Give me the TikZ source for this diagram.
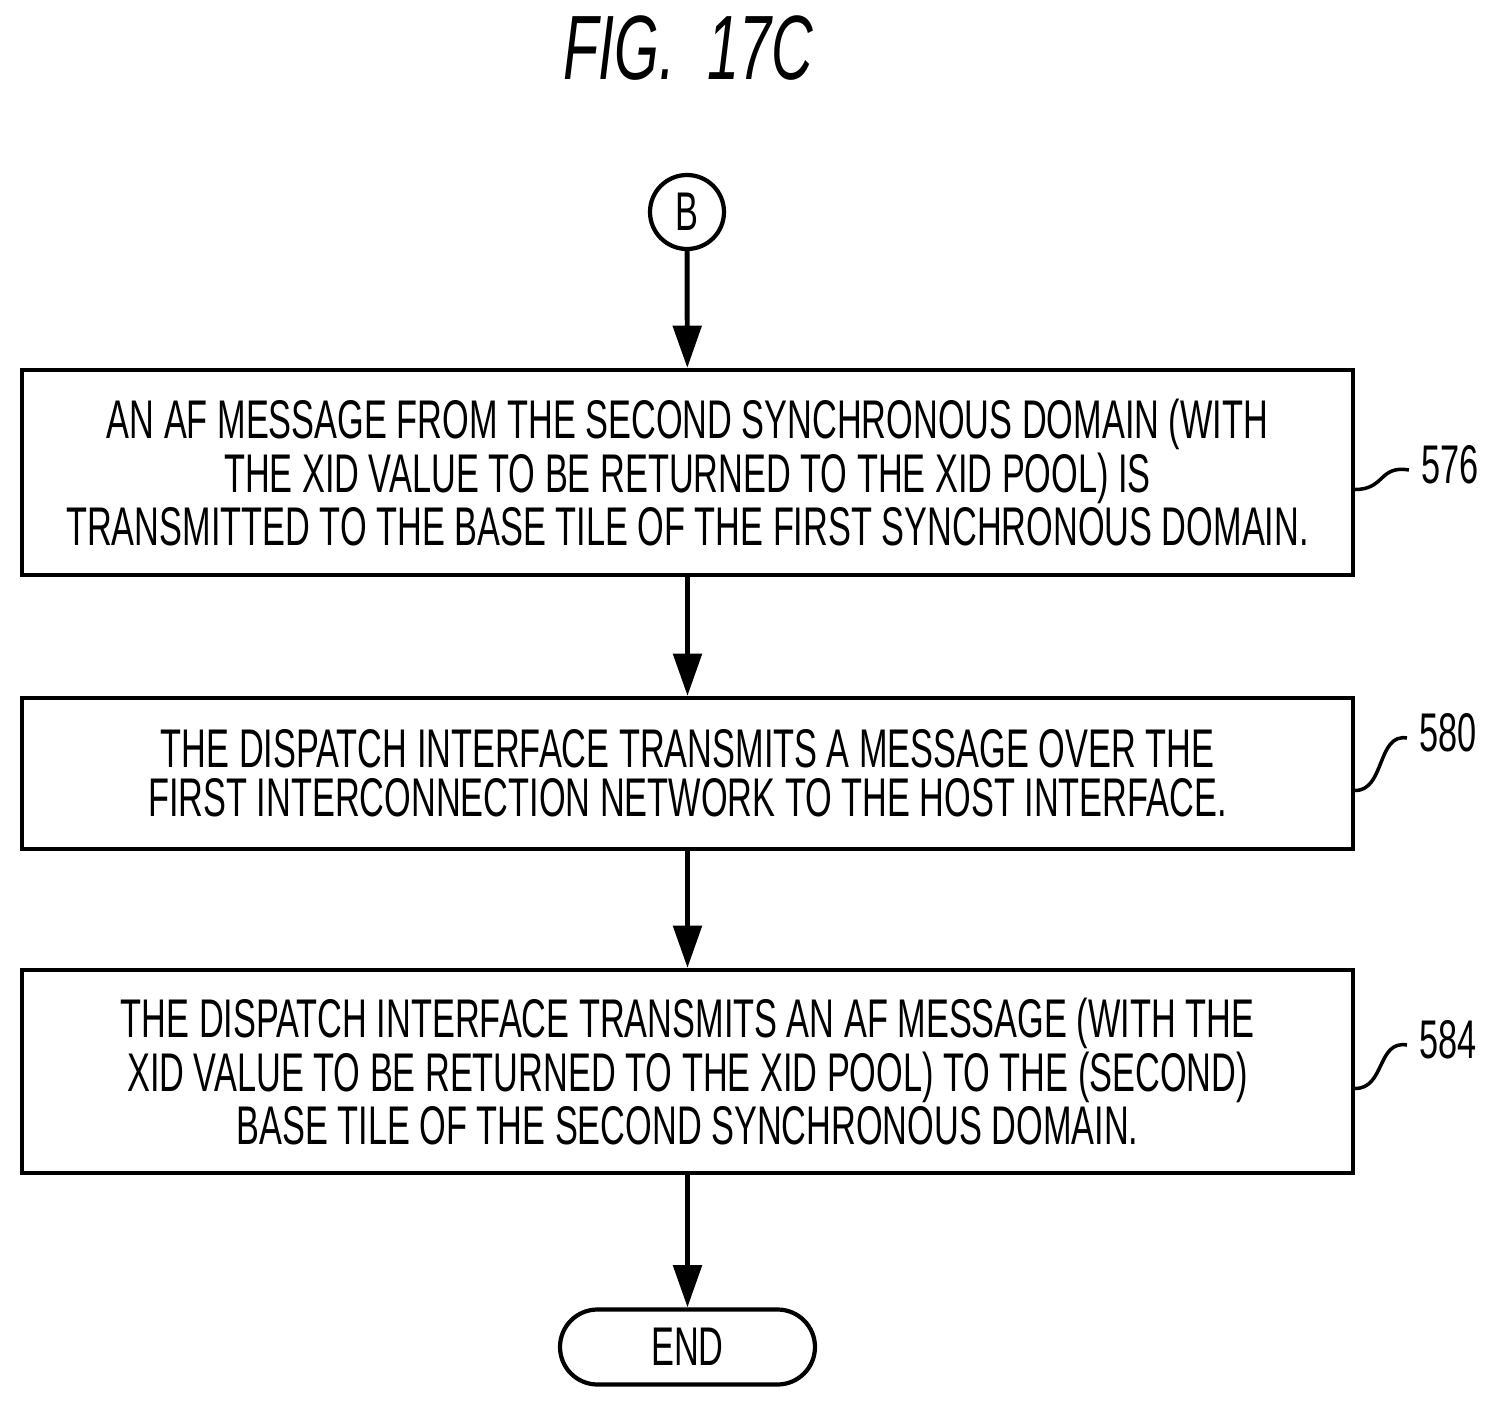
\documentclass[tikz,border=0pt]{standalone}
\usepackage{fontspec}
\setmainfont[FakeStretch=0.63]{Liberation Sans}
\usetikzlibrary{positioning,arrows.meta}
\begin{document}
\begin{tikzpicture}[
  procbox/.style={draw,line width=1.2pt,minimum width=13.31cm,align=center,font=\fontsize{15.5}{14}\selectfont,inner sep=0pt},
  flow/.style={-{Triangle[length=12pt,width=8pt]},line width=1.4pt},
  tag/.style={font=\fontsize{15.5}{18}\selectfont}]
\useasboundingbox (0,0) rectangle (15,-14.23);
\node[font=\fontsize{26}{26}\selectfont\itshape] (title) at (6.88,-0.48) {FIG.\ \ 17C};
\node[circle,draw,line width=1.2pt,minimum size=0.74cm,inner sep=0pt,font=\fontsize{15.5}{18}\selectfont] (b) at (6.87,-2.12) {B};
\node[procbox,minimum height=2.05cm] (s576) at (6.875,-4.725) {AN AF MESSAGE FROM THE SECOND SYNCHRONOUS DOMAIN (WITH\\THE XID VALUE TO BE RETURNED TO THE XID POOL) IS\\TRANSMITTED TO THE BASE TILE OF THE FIRST SYNCHRONOUS DOMAIN.};
\node[procbox,minimum height=1.51cm] (s580) at (6.875,-7.735) {THE DISPATCH INTERFACE TRANSMITS A MESSAGE OVER THE\\FIRST INTERCONNECTION NETWORK TO THE HOST INTERFACE.};
\node[procbox,minimum height=2.03cm] (s584) at (6.875,-10.715) {THE DISPATCH INTERFACE TRANSMITS AN AF MESSAGE (WITH THE\\XID VALUE TO BE RETURNED TO THE XID POOL) TO THE (SECOND)\\BASE TILE OF THE SECOND SYNCHRONOUS DOMAIN.};
\node[draw,rounded corners=0.375cm,line width=1.2pt,minimum width=2.55cm,minimum height=0.75cm,font=\fontsize{15.5}{18}\selectfont] (end) at (6.875,-13.47) {END};
\draw[flow] (b) -- (s576);
\draw[flow] (s576) -- (s580);
\draw[flow] (s580) -- (s584);
\draw[flow] (s584) -- (end);
% reference numerals
\node[tag] (n576) at (14.5,-4.65) {576};
\node[tag] (n580) at (14.48,-7.33) {580};
\node[tag] (n584) at (14.48,-10.4) {584};
\foreach \s/\n in {576/n576,580/n580,584/n584}
  \draw[line width=1pt] ([yshift=-0.17cm]s\s.east) .. controls +(0.3,0) and +(-0.3,0.05) .. ([yshift=-0.05cm]\n.west);
\end{tikzpicture}
\end{document}
